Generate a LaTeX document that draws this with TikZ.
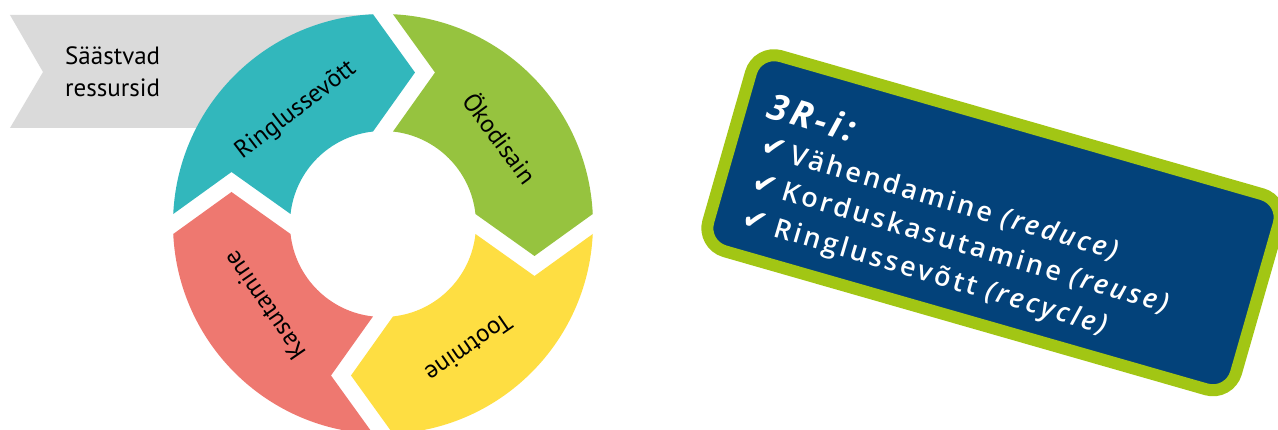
\documentclass[tikz,border=0pt]{standalone}
\usepackage{fontspec}
\setmainfont{PT Sans}
\newfontfamily\boxfont{Open Sans}[LetterSpace=11, UprightFont=* Semibold, ItalicFont=* Semibold Italic, BoldFont=* Bold, BoldItalicFont=* Bold Italic]
\newfontfamily\symfont{DejaVu Sans}

\definecolor{ringteal}{HTML}{32B7BC}
\definecolor{ringgreen}{HTML}{96C33F}
\definecolor{ringyellow}{HTML}{FEDE42}
\definecolor{ringred}{HTML}{EE7870}
\definecolor{savegrey}{HTML}{DADADA}
\definecolor{rnavy}{HTML}{03427A}
\definecolor{rlime}{HTML}{A2C614}

% ring measures (1pt = 1px)
\newcommand{\ringout}{210}
\newcommand{\ringin}{93}
\newcommand{\ringgap}{10}
\newcommand{\ringtip}{42}
\newcommand{\ringmid}{151.5}

\tikzset{
  pics/ringseg/.style={code={
    \fill[#1] ({90-asin(\ringgap/\ringout)}:\ringout)
      arc[start angle={90-asin(\ringgap/\ringout)}, end angle={asin(\ringgap/\ringout)}, radius=\ringout]
      -- (\ringmid,\ringgap-\ringtip)
      -- ({asin(\ringgap/\ringin)}:\ringin)
      arc[start angle={asin(\ringgap/\ringin)}, end angle={90-asin(\ringgap/\ringin)}, radius=\ringin]
      -- (\ringgap+\ringtip,\ringmid) -- cycle;
  }}
}

\begin{document}
\begin{tikzpicture}[x=1pt, y=1pt,
  segtext/.style={font=\fontsize{25}{30}\selectfont, inner sep=0pt},
  greylabel/.style={font=\fontsize{25}{32}\selectfont, align=left, anchor=west, inner sep=0pt},
  rrbox/.style={draw=rlime, fill=rnavy, line width=12pt, rounded corners=24pt,
    minimum width=549pt, minimum height=203pt},
  boxhead/.style={font=\boxfont\fontsize{36}{40}\selectfont\bfseries\itshape, text=white,
    inner sep=0pt, anchor=base west, rotate=-16.5},
  boxitem/.style={font=\boxfont\fontsize{27}{30}\selectfont, text=white,
    inner sep=0pt, anchor=base west, rotate=-16.5},
  boxcheck/.style={font=\symfont\fontsize{30}{34}\selectfont, text=white,
    inner sep=0pt, rotate=-16.5},
]
\useasboundingbox (-383,-206) rectangle (895,224);

% saved resources arrow, behind the ring
\fill[savegrey] (-373,209) -- (-11,209) -- (-11,96) -- (-373,96) -- (-340,152) -- cycle;
\node[greylabel] (saved) at (-318,152) {Säästvad\\ressursid};

% the four ring segments
\pic (ecodesign) {ringseg=ringgreen};
\pic[rotate=90] (recycling) {ringseg=ringteal};
\pic[rotate=180] (usage) {ringseg=ringred};
\pic[rotate=-90] (production) {ringseg=ringyellow};

\node[segtext, rotate=37.5] (trecycling) at (127.5:143) {Ringlussevõtt};
\node[segtext, rotate=-53.7] (tecodesign) at (36.3:146) {Ökodisain};
\node[segtext, rotate=214.6] (tproduction) at (-55.4:151) {Tootmine};
\node[segtext, rotate=124.5] (tusage) at (214.5:144) {Kasutamine};

% 3R box
\node[rrbox, rotate=-16] (rbox) at (610.5,1.25) {};
\node[boxhead] (head) at (382,107) {3R-i:};
\node[boxitem] (reduce) at (405,61) {Vähendamine \textit{(reduce)}};
\node[boxitem] (reuse) at (397,25) {Korduskasutamine \textit{(reuse)}};
\node[boxitem] (recycle) at (389,-12) {Ringlussevõtt \textit{(recycle)}};
\node[boxcheck] (check1) at (391.5,75.5) {✔};
\node[boxcheck] (check2) at (382,39) {✔};
\node[boxcheck] (check3) at (372,3) {✔};
\end{tikzpicture}
\end{document}
